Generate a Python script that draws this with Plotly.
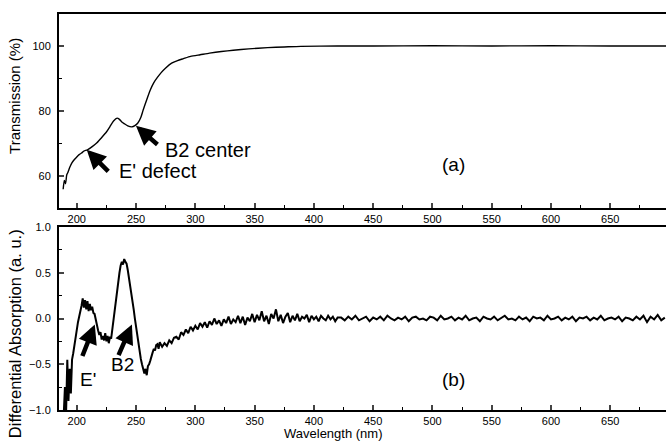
import plotly.graph_objects as go

# ---- top panel: transmission (%) ----
wl_t = [188.5, 189.5, 190.5, 191.5, 192.5, 194, 196, 198, 200, 202, 204, 206, 209, 213, 217,
        221, 225, 228, 231, 234, 236, 238, 240, 243, 246.5, 249, 251.5, 254, 256, 259, 262,
        265, 268, 271, 275, 280, 285, 290, 296, 304, 312, 322, 332, 345, 361, 375, 389,
        420, 450, 500, 550, 600, 650, 697]
trans = [55.8, 58.5, 57.5, 60.2, 61.0, 62.5, 64.0, 65.0, 65.8, 66.5, 67.0, 67.6, 68.0, 69.0, 70.2,
         71.8, 73.5, 75.2, 76.9, 77.8, 77.4, 76.6, 76.1, 75.4, 75.1, 75.5, 76.3, 78.0, 80.3, 83.5, 86.5,
         88.8, 90.4, 91.8, 93.3, 94.8, 95.6, 96.2, 96.9, 97.4, 97.9, 98.4, 98.8, 99.2, 99.6, 99.8, 100.0,
         100.1, 100.1, 100.2, 100.1, 100.2, 100.1, 100.1]

# ---- bottom panel: differential absorption (a.u.) ----
wl_b1 = [189, 190, 191, 192, 193, 194, 195, 196, 197, 198, 199, 200, 201, 202, 203, 204, 205, 206,
         207, 208, 209, 210, 211, 212, 213, 214, 215, 216, 217, 218, 219, 220, 221, 222, 223, 224,
         225, 226, 227, 228, 229, 230, 231, 232, 233, 234, 235, 236, 237, 238, 239, 240, 241, 242,
         243, 244, 245, 246, 247, 248, 249, 250, 251, 252, 253, 254, 255, 256, 257, 258, 259, 260,
         261, 262, 263, 264, 265, 266, 267, 268, 269, 270, 272, 274, 276, 278, 280, 282, 284, 286,
         288, 290, 292, 294, 296, 298]
dabs1 = [-1.05, -0.75, -1.02, -0.45, -0.9, -0.55, -0.82, -0.45, -0.38, -0.28, -0.2, -0.12, -0.04, 0.02, 0.07, 0.14, 0.22, 0.12,
         0.2, 0.1, 0.19, 0.08, 0.16, 0.09, 0.13, 0.06, 0.05, -0.02, -0.07, -0.13, -0.18, -0.15, -0.23, -0.19, -0.24, -0.16,
         -0.25, -0.19, -0.27, -0.2, -0.22, -0.11, -0.06, 0.04, 0.15, 0.28, 0.4, 0.5, 0.58, 0.62, 0.59, 0.65, 0.62, 0.6,
         0.53, 0.45, 0.37, 0.3, 0.2, 0.1, 0.0, -0.1, -0.19, -0.28, -0.36, -0.44, -0.5, -0.56, -0.6, -0.55, -0.62, -0.52,
         -0.5, -0.46, -0.4, -0.37, -0.33, -0.35, -0.29, -0.28, -0.33, -0.26, -0.31, -0.27, -0.3, -0.24, -0.27, -0.21, -0.2, -0.23,
         -0.15, -0.18, -0.12, -0.16, -0.09, -0.13]
wl_b2 = list(range(300, 421, 2))
dabs2 = [-0.08, -0.12, -0.05, -0.09, -0.04, -0.1, -0.03, -0.07, 0.0, -0.06, -0.02, -0.08, -0.01, -0.05, 0.02, -0.06,
         -0.01, -0.04, 0.03, -0.05, 0.02, -0.07, 0.01, -0.03, 0.05, -0.04, 0.04, -0.02, 0.08, -0.03, 0.03, -0.06,
         0.05, 0.0, 0.1, -0.03, 0.04, -0.05, 0.02, 0.06, -0.04, 0.03, -0.02, 0.05, -0.03, 0.02, 0.0, 0.04,
         -0.04, 0.03, -0.01, 0.02, -0.03, 0.03, 0.0, -0.02, 0.03, -0.01, 0.02, -0.03, 0.01]
wl_b3 = list(range(423, 697, 3))
dabs3 = [0.01, -0.02, 0.02, -0.01, 0.03, -0.02, 0.0, 0.02, -0.03, 0.01, -0.01, 0.02, -0.02, 0.03, 0.0, -0.02,
         0.01, -0.01, 0.02, -0.03, 0.01, 0.02, -0.01, 0.0, -0.02, 0.02, 0.01, -0.02, 0.03, -0.01, 0.0, 0.02,
         -0.02, 0.01, -0.01, 0.03, -0.02, 0.0, 0.01, -0.03, 0.02, 0.0, -0.01, 0.02, -0.02, 0.01, 0.03, -0.01,
         0.0, -0.02, 0.02, -0.01, 0.01, -0.03, 0.02, 0.0, 0.01, -0.02, 0.03, -0.01, 0.0, 0.02, -0.02, 0.01,
         -0.01, 0.02, -0.03, 0.01, 0.0, 0.02, -0.02, 0.01, -0.01, 0.03, -0.02, 0.0, 0.01, -0.01, 0.02, -0.03,
         0.01, 0.0, -0.02, 0.02, -0.01, 0.03, -0.04, 0.02, -0.01, 0.04, -0.02, 0.01]

x_ticks = [200, 250, 300, 350, 400, 450, 500, 550, 600, 650]
top_ticks = [60, 80, 100]
bot_ticks = [-1.0, -0.5, 0.0, 0.5, 1.0]

pairs2 = list(zip(wl_b2, dabs2))
pairs3 = list(zip(wl_b3, dabs3))
wl_b = wl_b1 + [p[0] for p in pairs2] + [p[0] for p in pairs3]
dabs = dabs1 + [p[1] for p in pairs2] + [p[1] for p in pairs3]

FONT = "Liberation Sans, Arial, sans-serif"

fig = go.Figure()
fig.add_trace(go.Scatter(x=wl_t, y=trans, mode="lines", line=dict(color="black", width=1.4, shape="spline", smoothing=0.6),
                         xaxis="x", yaxis="y", showlegend=False))
fig.add_trace(go.Scatter(x=wl_b, y=dabs, mode="lines", line=dict(color="black", width=2),
                         xaxis="x2", yaxis="y2", showlegend=False))

common_x = dict(range=[185, 697], tickvals=x_ticks, ticks="inside", ticklen=5, tickwidth=1.5,
                showline=True, linecolor="black", linewidth=2, mirror=True, showgrid=False, zeroline=False,
                tickfont=dict(family=FONT, size=11, color="black"),
                minor=dict(tickvals=[225, 275, 325, 375, 425, 475, 525, 575, 625, 675], ticks="inside",
                           ticklen=3, tickwidth=1.2, tickcolor="black"))

fig.update_layout(
    width=666, height=443,
    margin=dict(l=59, r=0, t=14, b=33),
    paper_bgcolor="white", plot_bgcolor="white",
    font=dict(family=FONT, color="black"),
    xaxis=dict(domain=[0, 1], anchor="y", **common_x),
    yaxis=dict(domain=[0.5101, 1], anchor="x", range=[50, 110], tickvals=top_ticks, ticks="inside",
               ticklen=5, tickwidth=1.5, showline=True, linecolor="black", linewidth=2, showgrid=False,
               zeroline=False, tickfont=dict(family=FONT, size=11, color="black"), ticklabelstandoff=4,
               minor=dict(tickvals=[70, 90], ticks="inside", ticklen=3, tickwidth=1.2, tickcolor="black")),
    xaxis2=dict(domain=[0, 1], anchor="y2", **common_x),
    yaxis2=dict(domain=[0, 0.4621], anchor="x2", range=[-1.0, 1.0], tickvals=bot_ticks, tickformat=".1f",
                ticks="inside", ticklen=5, tickwidth=1.5, showline=True, linecolor="black", linewidth=2,
                showgrid=False, zeroline=False, tickfont=dict(family=FONT, size=11, color="black"),
                ticklabelstandoff=4,
                minor=dict(tickvals=[-0.75, -0.25, 0.25, 0.75], ticks="inside", ticklen=3, tickwidth=1.2,
                           tickcolor="black")),
)

ann = []
# axis titles
ann.append(dict(text="Transmission (%)", xref="paper", yref="paper", x=-0.0725, y=0.793, showarrow=False,
                xanchor="center", yanchor="middle",
                textangle=-90, font=dict(size=15, family=FONT, color="black")))
ann.append(dict(text="Differential Absorption (a. u.)", xref="paper", yref="paper", x=-0.0725, y=0.194,
                xanchor="center", yanchor="middle",
                showarrow=False, textangle=-90, font=dict(size=16.5, family=FONT, color="black")))
ann.append(dict(text="Wavelength (nm)", xref="paper", yref="paper", x=0.453, y=-0.0606, showarrow=False,
                xanchor="center", yanchor="middle",
                font=dict(size=13, family=FONT, color="black")))
# panel labels
ann.append(dict(text="(a)", xref="x", yref="y", x=517.7, y=63.4, showarrow=False,
                font=dict(size=19, family=FONT, color="black")))
ann.append(dict(text="(b)", xref="x2", yref="y2", x=517.7, y=-0.667, showarrow=False,
                font=dict(size=19, family=FONT, color="black")))
# top arrows and labels
ann.append(dict(text="", xref="x", yref="y", x=208.4, y=68.0, ax=23, ay=23, showarrow=True,
                arrowhead=2, arrowsize=0.85, arrowwidth=4.5, arrowcolor="black"))
ann.append(dict(text="E' defect", xref="x", yref="y", x=233.8, y=61.5, xanchor="left", showarrow=False,
                font=dict(size=20, family=FONT, color="black")))
ann.append(dict(text="", xref="x", yref="y", x=249.9, y=75.4, ax=23, ay=20, showarrow=True,
                arrowhead=2, arrowsize=0.85, arrowwidth=4.5, arrowcolor="black"))
ann.append(dict(text="B2 center", xref="x", yref="y", x=272.7, y=68.0, xanchor="left", showarrow=False,
                font=dict(size=20, family=FONT, color="black")))
# bottom arrows and labels
ann.append(dict(text="", xref="x2", yref="y2", x=215.2, y=-0.066, ax=-13, ay=33, showarrow=True,
                arrowhead=2, arrowsize=0.85, arrowwidth=4.5, arrowcolor="black"))
ann.append(dict(text="E'", xref="x2", yref="y2", x=209.3, y=-0.667, showarrow=False,
                font=dict(size=19, family=FONT, color="black")))
ann.append(dict(text="", xref="x2", yref="y2", x=246.5, y=-0.066, ax=-14, ay=32, showarrow=True,
                arrowhead=2, arrowsize=0.85, arrowwidth=4.5, arrowcolor="black"))
ann.append(dict(text="B2", xref="x2", yref="y2", x=238.4, y=-0.508, showarrow=False,
                font=dict(size=19, family=FONT, color="black")))
fig.update_layout(annotations=ann)

fig.write_html("out.html")
